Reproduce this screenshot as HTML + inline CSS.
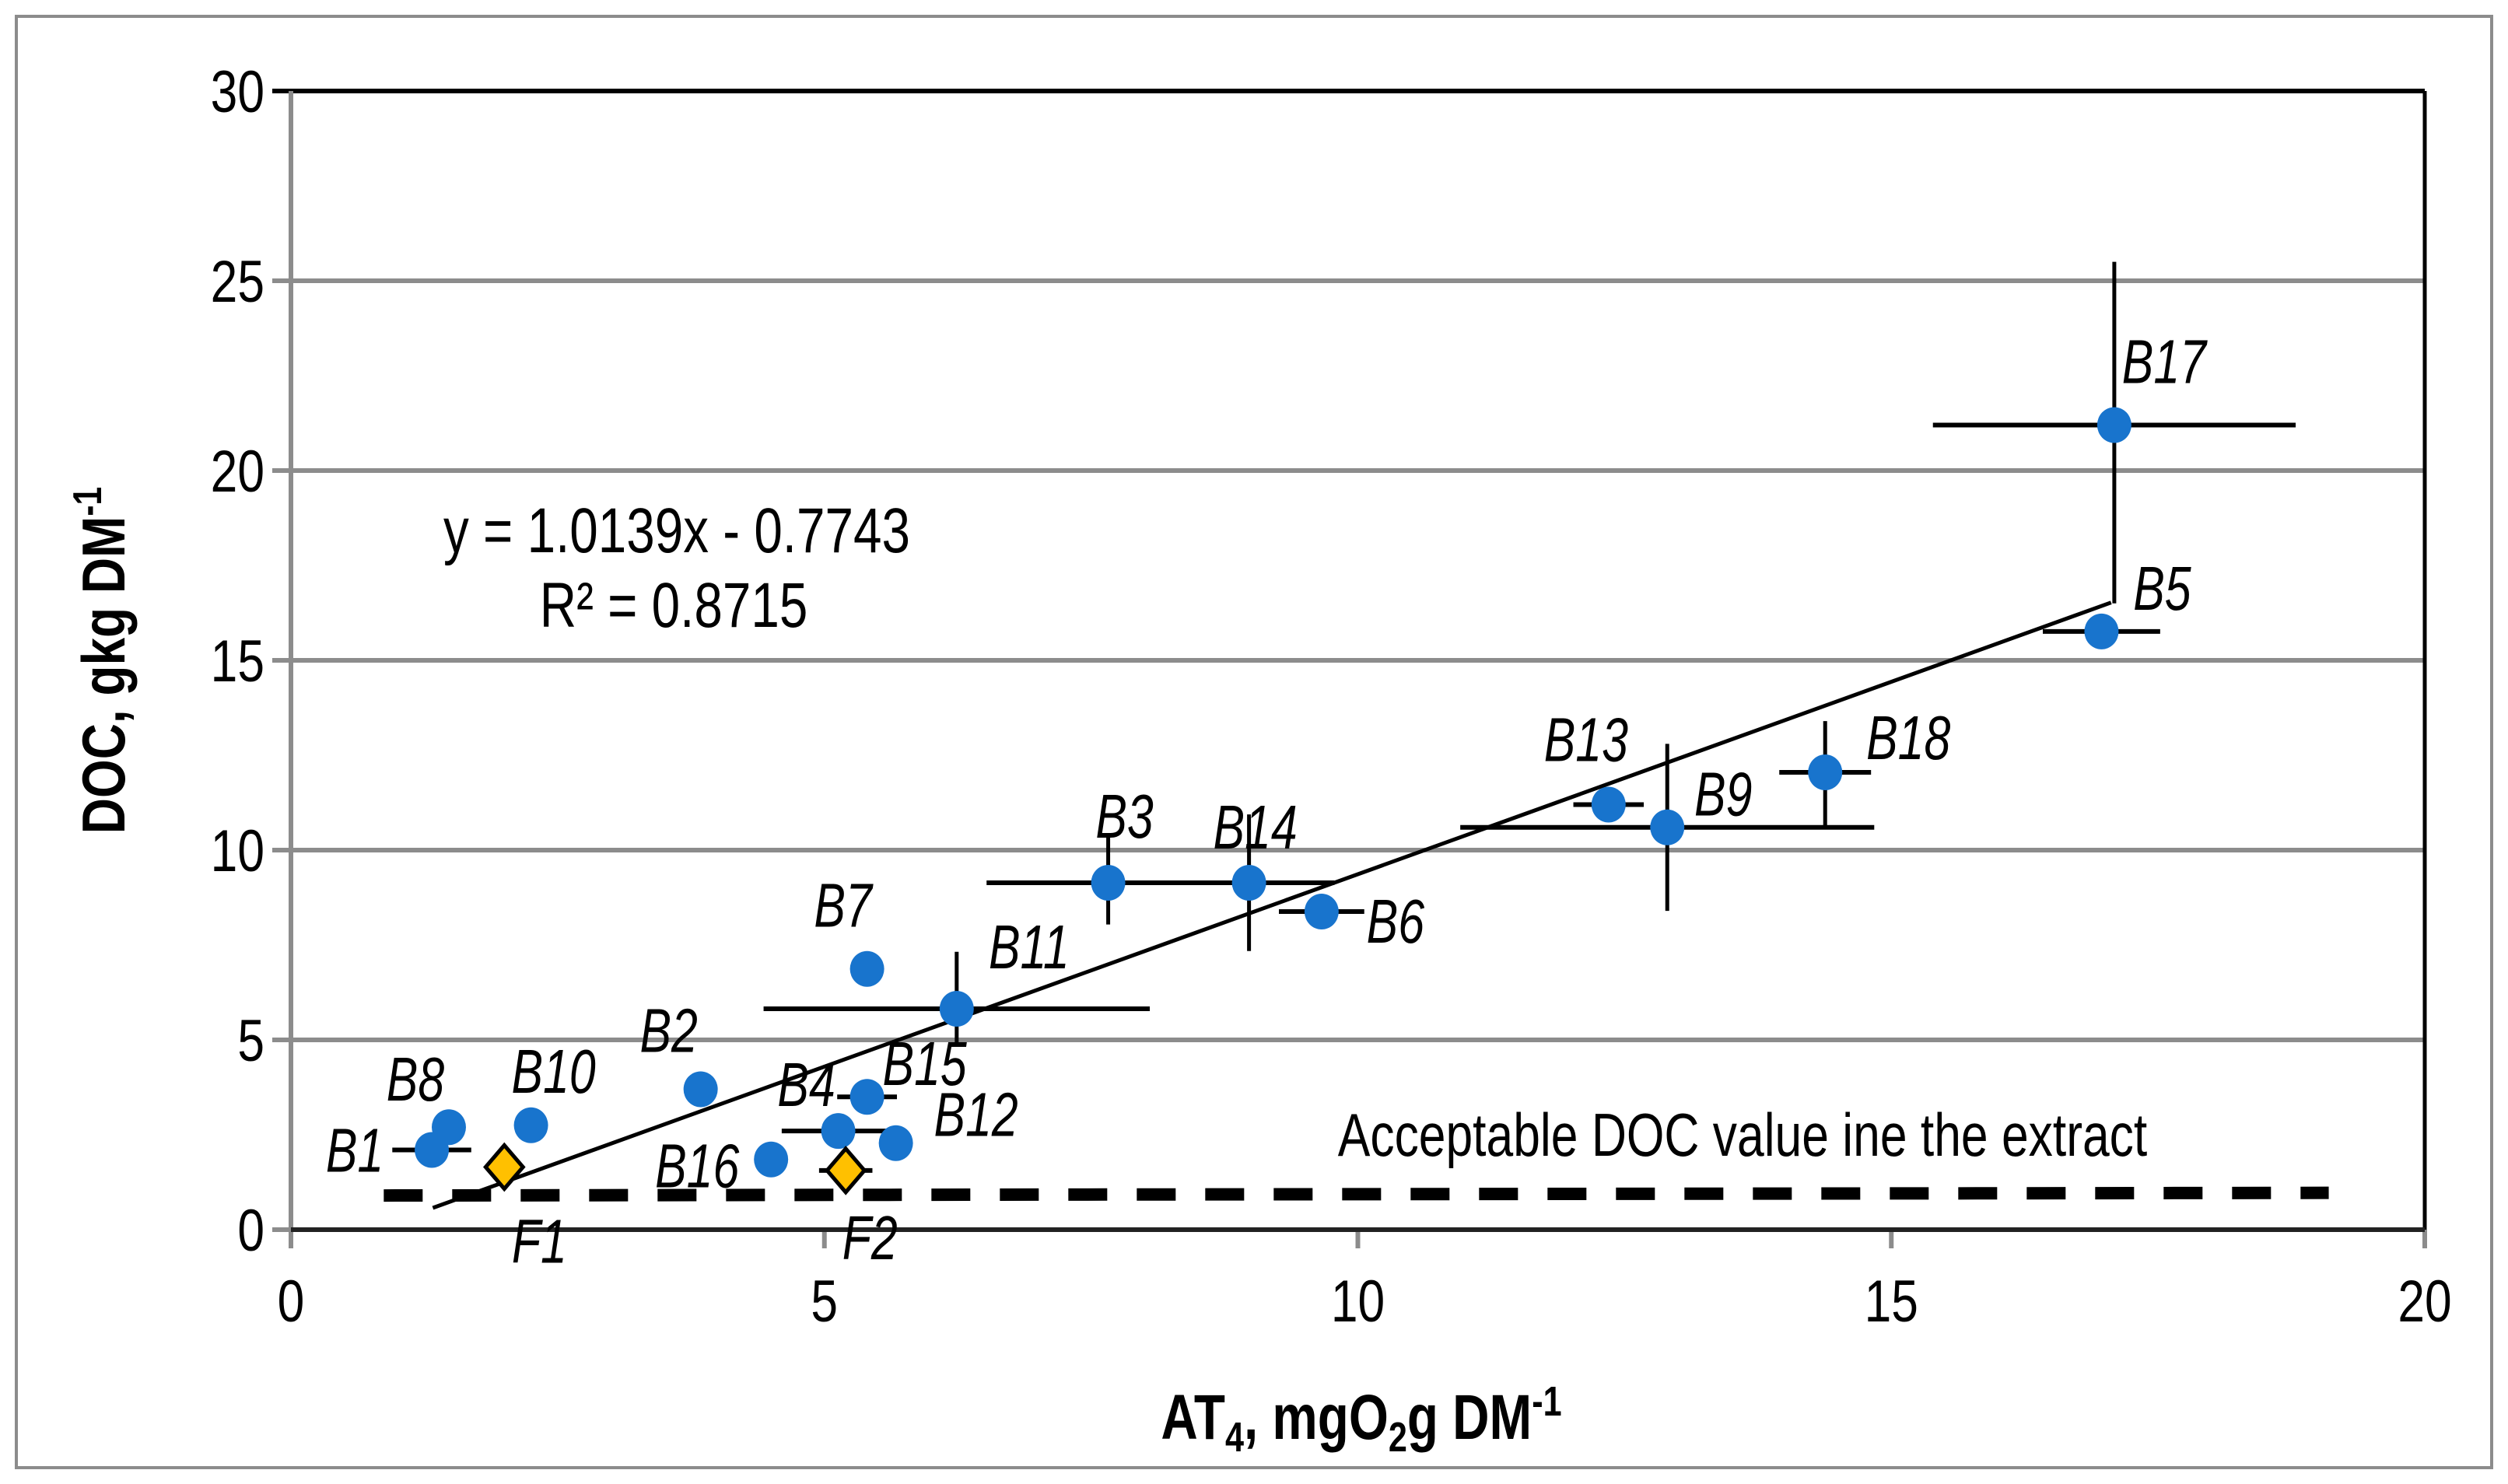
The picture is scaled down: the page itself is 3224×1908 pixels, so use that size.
<!DOCTYPE html>
<html><head><meta charset="utf-8"><style>
html,body{margin:0;padding:0;background:#fff}
svg{display:block}
text{font-family:"Liberation Sans Narrow","Liberation Sans",sans-serif}
</style></head><body>
<svg id="chart" width="3224" height="1908" viewBox="0 0 3224 1908" xmlns="http://www.w3.org/2000/svg">
<rect x="21" y="21" width="3182" height="1866" fill="#fff" stroke="#8c8c8c" stroke-width="4"/>
<g id="grid"></g>
<g id="axes"></g>
<g id="marks"></g>
<g id="labels"></g>
<text data-sx="0.8" x="870" y="710" font-size="82" text-anchor="middle">y = 1.0139x - 0.7743</text>
<text data-sx="0.8" x="866" y="806" font-size="82" text-anchor="middle">R² = 0.8715</text>
<text data-sx="0.8" x="2240" y="1486" font-size="78" text-anchor="middle">Acceptable DOC value ine the extract</text>
<text data-sx="0.8" x="1750" y="1850" font-size="82" font-weight="bold" text-anchor="middle">AT<tspan font-size="54" dy="16">4</tspan><tspan dy="-16">, mgO</tspan><tspan font-size="54" dy="16">2</tspan><tspan dy="-16">g DM</tspan><tspan font-size="54" dy="-30">-1</tspan></text>
<g transform="translate(160,849) rotate(-90)"><text data-sx="0.82" x="0" y="0" font-size="78" font-weight="bold" text-anchor="middle">DOC, gkg DM<tspan font-size="52" dy="-30">-1</tspan></text></g>
</svg>
<script>
const names = ["B1","B8","B10","B2","B7","B16","B4","B15","B12","B11","B3","B14","B6","B13","B9","B18","B5","B17"];
const xVals = [1.32,1.48,2.25,3.84,5.4,4.5,5.13,5.4,5.67,6.24,7.66,8.98,9.66,12.35,12.9,14.38,16.97,17.09];
const yVals = [2.1,2.7,2.75,3.7,6.87,1.85,2.6,3.5,2.28,5.82,9.14,9.14,8.38,11.2,10.6,12.05,15.76,21.2];
const xErr = [0.37,0,0,0,0,0,0.53,0.28,0,1.81,1.14,0.8,0.4,0.33,1.94,0.43,0.55,1.7];
const yErrUp = [0,0,0,0,0,0,0,0,0,1.5,1.3,1.8,0,0,2.2,1.35,0,4.3];
const yErrDn = [0,0,0,0,0,0,0,0,0,1.0,1.1,1.8,0,0,2.2,1.4,0,4.7];
const fNames = ["F1","F2"];
const fX = [2.0,5.2];
const fY = [1.65,1.56];
const fXErr = [0,0.25];
const slope = 1.0139, intercept = -0.7743, trendX = [1.33,17.06];
const limitX = [0.87,19.1], limitY = [0.9,0.97];
const xTicks = [0,5,10,15,20];
const yTicks = [0,5,10,15,20,25,30];
// label offsets (pixels, styling only)
const labOff = {B1:[-99,0],B8:[-43,-62],B10:[29,-70],B2:[-41,-76],B7:[-31,-82],B16:[-95,8],B4:[-41,-60],B15:[74,-43],B12:[103,-37],B11:[93,-80],B3:[21,-86],B14:[8,-72],B6:[95,12],B13:[-29,-84],B9:[72,-43],B18:[107,-45],B5:[78,-56],B17:[64,-82],F1:[45,95],F2:[31,86]};

const L=374,R=3117,T=117,B=1581;
const sx=v=>L+(v-0)/(20-0)*(R-L);
const sy=v=>B-(v-0)/(30-0)*(B-T);
const NS="http://www.w3.org/2000/svg";
function mk(tag,parent,attrs){const e=document.createElementNS(NS,tag);for(const k in attrs)e.setAttribute(k,attrs[k]);document.getElementById(parent).appendChild(e);return e;}

yTicks.forEach(t=>{
  const g=mk('line','grid',{x1:L-24,x2:R,y1:sy(t),y2:sy(t),stroke:t===30?'#000':'#8c8c8c','stroke-width':6});
  
  
  const tx=mk('text','axes',{x:L-34,y:sy(t)+27,'font-size':76,'text-anchor':'end','data-sx':0.82});
  tx.textContent=t;
  
  
});
xTicks.forEach(t=>{
  const g=mk('line','axes',{x1:sx(t),x2:sx(t),y1:B,y2:B+24,stroke:'#8c8c8c','stroke-width':6});
  
  
  const tx=mk('text','axes',{x:sx(t),y:B+118,'font-size':76,'text-anchor':'middle','data-sx':0.82});
  tx.textContent=t;
  
  
});
let a=mk('line','axes',{x1:L,x2:L,y1:T,y2:B+24,stroke:'#8c8c8c','stroke-width':6});


a=mk('line','axes',{x1:R,x2:R,y1:T,y2:B,stroke:'#000','stroke-width':5});


a=mk('line','axes',{x1:L,x2:R,y1:B,y2:B,stroke:'#222','stroke-width':6});



let d=mk('line','marks',{x1:sx(limitX[0]),x2:sx(limitX[1]),y1:sy(limitY[0]),y2:sy(limitY[1]),stroke:'#000','stroke-width':16,'stroke-dasharray':'50 38'});


d=mk('line','marks',{x1:sx(trendX[0]),x2:sx(trendX[1]),y1:sy(slope*trendX[0]+intercept),y2:sy(slope*trendX[1]+intercept),stroke:'#000','stroke-width':5});



names.forEach((n,i)=>{
  const cx=sx(xVals[i]),cy=sy(yVals[i]);
  if(xErr[i]>0){const e=mk('line','marks',{x1:sx(xVals[i]-xErr[i]),x2:sx(xVals[i]+xErr[i]),y1:cy,y2:cy,stroke:'#000','stroke-width':6});
    
    }
  if(yErrUp[i]+yErrDn[i]>0){const e=mk('line','marks',{x1:cx,x2:cx,y1:sy(yVals[i]+yErrUp[i]),y2:sy(yVals[i]-yErrDn[i]),stroke:'#000','stroke-width':5});
    
    }
});
names.forEach((n,i)=>{
  const cx=sx(xVals[i]),cy=sy(yVals[i]);
  const c=mk('ellipse','marks',{cx:cx,cy:cy,rx:22,ry:23,fill:'#1874cd'});
  
  
  const o=labOff[n]||[0,-60];
  const t=mk('text','labels',{x:cx+o[0],y:cy+o[1]+28,'font-size':80,'font-style':'italic','text-anchor':'middle','data-sx':0.76});
  t.textContent=n;
  
  
});
fNames.forEach((n,i)=>{
  const cx=sx(fX[i]),cy=sy(fY[i]);
  if(fXErr[i]>0){const e=mk('line','marks',{x1:sx(fX[i]-fXErr[i]),x2:sx(fX[i]+fXErr[i]),y1:cy,y2:cy,stroke:'#000','stroke-width':6});
    
    }
  const p=mk('polygon','marks',{points:`${cx},${cy-28} ${cx+24},${cy} ${cx},${cy+28} ${cx-24},${cy}`,fill:'#ffc000',stroke:'#000','stroke-width':5});
  
  
  const o=labOff[n];
  const t=mk('text','labels',{x:cx+o[0],y:cy+o[1]+28,'font-size':80,'font-style':'italic','text-anchor':'middle','data-sx':0.76});
  t.textContent=n;
  
  
});
document.querySelectorAll('text[data-sx]').forEach(t=>{
  const k=parseFloat(t.getAttribute('data-sx'));
  const x=parseFloat(t.getAttribute('x')),y=parseFloat(t.getAttribute('y'));
  t.setAttribute('transform',`translate(${x},${y}) scale(${k},1) translate(${-x},${-y})`);
});
</script>
</body></html>
